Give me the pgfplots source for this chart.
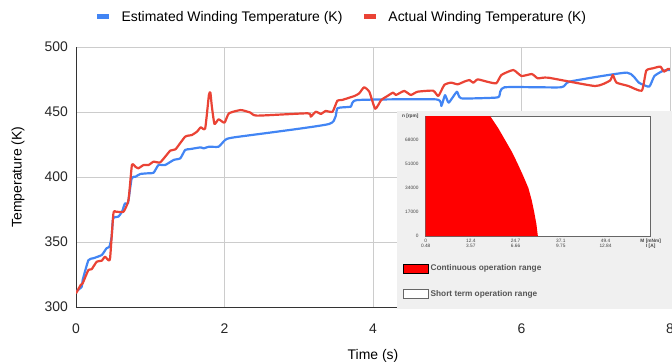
\documentclass[border=0pt]{standalone}
\usepackage{pgfplots}
\pgfplotsset{compat=1.18}
\usepackage{fontspec}
\setmainfont{Liberation Sans}
\definecolor{gblue}{HTML}{4285F4}
\definecolor{gred}{HTML}{EA4335}
\definecolor{gridc}{HTML}{CCCCCC}
\definecolor{panel}{HTML}{F0F0F0}
\definecolor{insetlbl}{HTML}{444444}
\definecolor{insetleg}{HTML}{555555}
\begin{document}
\begin{tikzpicture}
\begin{axis}[
  at={(76bp,-307bp)}, anchor=south west,
  scale only axis, width=594bp, height=260bp,
  xmin=0, xmax=8, ymin=300, ymax=500,
  xtick={0,2,4,6,8}, ytick={300,350,400,450,500},
  axis x line=bottom, axis y line=left,
  axis line style={draw=black!80, line width=0.9bp, -},
  grid=major, major grid style={draw=gridc, line width=0.8bp},
  major tick length=0pt,
  /pgf/number format/assume math mode=true,
  tick label style={font=\fontsize{14}{16}\selectfont, text=black!85},
  yticklabel style={inner sep=0pt, anchor=east, xshift=-8bp},
  xticklabel style={inner sep=0pt, anchor=north, yshift=-17bp},
  xlabel={Time (s)}, ylabel={Temperature (K)},
  label style={font=\fontsize{14}{16}\selectfont},
  xlabel style={at={(axis description cs:0.5,-0.1885)}, anchor=center},
  ylabel style={at={(axis description cs:-0.0976,0.5)}, anchor=center},
  legend columns=2,
  legend style={at={(axis description cs:0.445,1.1154)}, anchor=center, draw=none, fill=none,
    font=\fontsize{14}{16}\selectfont, nodes={inner sep=0pt},
    /tikz/every odd column/.append style={column sep=10bp},
    /tikz/every even column/.append style={column sep=19bp}},
  legend image code/.code={\draw[#1, line width=5bp, line cap=butt] (0bp,0bp) -- (12bp,0bp);},
]
\addplot[gblue, line width=2.2bp, line join=round, smooth, tension=0.3] coordinates {
(0,311.8) (0.077,315.6) (0.09,320.8) (0.167,336) (0.234,337.5) (0.347,340) (0.41,345.1) (0.45,346.4) (0.48,354) (0.50,368.2) (0.57,369.5) (0.62,373.3) (0.66,379.8) (0.70,379.8) (0.75,399) (0.80,400.2) (0.865,402.3) (0.955,402.8) (1.045,403.3) (1.11,409.2) (1.20,409.2) (1.315,413.1) (1.405,414.4) (1.47,420.8) (1.54,421.5) (1.68,422.8) (1.72,422) (1.79,423.3) (1.92,423.3) (2.01,428.5) (2.13,430.5) (3.41,440.8) (3.52,452.8) (3.70,454.1) (3.79,459.2) (4.85,459.7) (4.92,454.6) (4.97,463) (5.02,457.2) (5.13,465.6) (5.19,460.5) (5.64,461) (5.70,462) (5.77,469) (6.53,469) (6.65,473.4) (7.42,480.3) (7.58,472.6) (7.72,469.5) (7.79,477.7) (7.91,481.8) (8.0,482.3)
};
\addlegendentry{Estimated Winding Temperature (K)}
\addplot[gred, line width=2.2bp, line join=round, smooth, tension=0.3] coordinates {
(0,310.5) (0.063,316.9) (0.09,318.2) (0.167,328.5) (0.21,329) (0.28,334.9) (0.347,335.6) (0.39,338.7) (0.437,336) (0.46,338) (0.504,372) (0.54,373.3) (0.64,373.3) (0.707,382.3) (0.753,409.2) (0.80,407.9) (0.84,406.7) (0.91,409.2) (0.977,409.2) (1.045,411.8) (1.135,411.3) (1.27,420.3) (1.34,421.3) (1.47,431) (1.56,432.3) (1.63,434.9) (1.68,438.2) (1.74,437.4) (1.79,463.1) (1.81,464.9) (1.83,454.1) (1.865,440.8) (1.92,444.4) (2.0,441.8) (2.06,449) (2.22,451.5) (2.35,449.5) (2.44,447.2) (3.12,449) (3.16,446.4) (3.23,450.2) (3.30,448.5) (3.36,450.8) (3.455,450.2) (3.52,458.7) (3.58,459.2) (3.75,462.3) (3.815,464.4) (3.88,469) (3.95,465.6) (4.03,452.5) (4.11,459.2) (4.18,461.8) (4.27,464.9) (4.31,463.1) (4.42,466.2) (4.51,463.1) (4.60,465.6) (4.81,466.4) (4.88,462.3) (4.96,470.8) (5.05,472.6) (5.14,471.3) (5.23,473.4) (5.30,474.6) (5.35,472.5) (5.41,475.1) (5.53,473.4) (5.66,472.1) (5.73,478.5) (5.89,482.3) (6.0,477.7) (6.14,479.2) (6.22,475.9) (6.36,476.4) (6.99,470) (7.19,474.1) (7.23,478.5) (7.28,472.6) (7.44,470) (7.62,466.4) (7.68,481.8) (7.77,483.6) (7.87,484.9) (7.92,481) (7.97,483.1) (8.0,483)
};
\addlegendentry{Actual Winding Temperature (K)}
\end{axis}
\fill[panel] (397bp,-111bp) rectangle (672bp,-309bp);
\begin{axis}[
  at={(425.7bp,-236bp)}, anchor=south west,
  scale only axis, width=225bp, height=120bp,
  xmin=0, xmax=61.8, ymin=0, ymax=85000,
  axis background/.style={fill=white},
  axis line style={draw=black!60, line width=0.9bp},
  major tick length=0pt, scaled ticks=false,
  xtick={0,12.4,24.7,37.1,49.4,61.8},
  xticklabels={{0\\0.48},{12.4\\3.57},{24.7\\6.66},{37.1\\9.75},{49.4\\12.84},{\textbf{M [mNm]}\\\textbf{I [A]}}},
  ytick={0,17000,34000,51000,68000,85000},
  yticklabels={0,17000,34000,51000,68000,\textbf{n [rpm]}},
  tick label style={font=\fontsize{4.8}{5.2}\selectfont, text=insetlbl},
  xticklabel style={align=center, inner sep=0pt, anchor=north, yshift=-3bp},
  yticklabel style={inner sep=0pt, anchor=east, xshift=-7bp},
  legend style={at={(axis description cs:-0.114,-0.205)}, anchor=north west, draw=none, fill=none,
    font=\fontsize{8.3}{10}\selectfont\bfseries, text=insetleg,
    row sep=14bp, nodes={inner sep=2bp}},
  legend cell align=left,
  legend image code/.code={\draw[#1] (0bp,-4.5bp) rectangle (25bp,4.5bp);},
]
\addplot[fill=red, draw=none] coordinates {
(0,0) (0,85000) (17.7,85000) (19.9,76500) (21.8,68000) (23.7,59500) (25.3,51000) (26.8,42500) (28.2,34000) (29.1,25500) (29.8,17000) (30.4,8500) (30.8,0)
} -- cycle;
\addlegendentry{Continuous operation range}
\addlegendimage{fill=white, draw=black!60}
\addlegendentry{Short term operation range}
\end{axis}
\pgfresetboundingbox
\useasboundingbox (0,0) rectangle (672bp,-364bp);
\end{tikzpicture}
\end{document}
